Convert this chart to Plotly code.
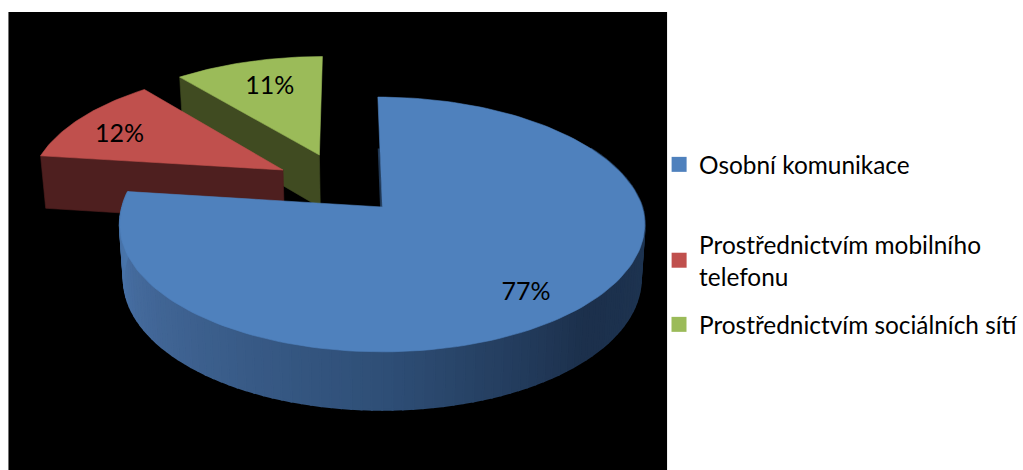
import numpy as np
import plotly.graph_objects as go

categories = ["Osobní komunikace", "Prostřednictvím mobilního<br>telefonu", "Prostřednictvím sociálních sítí"]
values = [77, 12, 11]
labels = ["77%", "12%", "11%"]
top_colors = ["#4f81bd", "#c0504d", "#9bbb59"]
wall_colors = ["#1f3652", "#4e1f1f", "#404b21"]

# slice explosion in the pie plane, and radial/angular placement of the value label
explode = [(0.0, 0.0), (-0.392, 0.3085), (-0.248, 0.441)]
label_radius = [0.77, 0.80, 0.78]
label_turn = [0.0, 0.0, 2.5]

W, H = 1023, 470
CX, CY, A, B, K = 384.5, 207.0, 261.5, 125.0, 0.137
LEAN = 0.04
LABEL_DROP = 8


def project(u, v):
    den = 1 + K * v
    x, y = CX + A * u / den, CY - B * v / den
    return x + LEAN * min(0.0, y - CY), y


def project_low(u, v):
    x, y = project(u, v)
    return CX + (x - CX) * 0.985, y + 54.0 / (1 + 0.068 * v)


def polar(t, r=1.0):
    a = np.radians(t)
    return r * np.sin(a), r * np.cos(a)


def lerp_color(t):
    stops = [(60, (33, 58, 88)), (135, (28, 48, 76)), (180, (47, 79, 119)),
             (240, (68, 105, 154)), (278, (74, 120, 176))]
    ts = [s[0] for s in stops]
    rgb = [np.interp(t, ts, [s[1][i] for s in stops]) for i in range(3)]
    return "rgb(%d,%d,%d)" % tuple(rgb)


def poly(fig, xs, ys, color, lw=0.6):
    fig.add_trace(go.Scatter(
        x=list(xs) + [xs[0]], y=list(ys) + [ys[0]], mode="lines", fill="toself",
        fillcolor=color, line=dict(color=color, width=lw),
        showlegend=False, hoverinfo="skip"))


fig = go.Figure()

edges = np.cumsum([0] + values) * 3.6
spans = list(zip(edges[:-1], edges[1:]))

# exploded slices, back to front
for i in [2, 1]:
    s, e = spans[i]
    du, dv = explode[i]
    eu, ev = polar(s)
    line_u = np.linspace(0, 1, 12)
    top = [project(du + f * eu, dv + f * ev) for f in line_u]
    low = [project_low(du + f * eu, dv + f * ev) for f in line_u]
    pts = top + low[::-1]
    poly(fig, [p[0] for p in pts], [p[1] for p in pts], wall_colors[i])
    arc = [polar(t) for t in np.linspace(s, e, 40)]
    face = [project(du, dv)] + [project(du + a, dv + b) for a, b in arc]
    poly(fig, [p[0] for p in face], [p[1] for p in face], top_colors[i])

# large slice: shaded rim strips
s, e = spans[0]
ticks = np.arange(60, e, 2.0).tolist() + [e]
for t0, t1 in zip(ticks[:-1], ticks[1:]):
    u0, v0 = polar(t0)
    u1, v1 = polar(t1)
    pts = [project(u0, v0), project(u1, v1), project_low(u1, v1), project_low(u0, v0)]
    poly(fig, [p[0] for p in pts], [p[1] for p in pts], lerp_color((t0 + t1) / 2), lw=2)

# thin dark wall beside the first cut
wall = [project(*polar(s, f)) for f in np.linspace(0, 0.5, 6)]
fig.add_trace(go.Scatter(
    x=[p[0] - 1.2 for p in wall], y=[p[1] for p in wall], mode="lines",
    line=dict(color=wall_colors[0], width=2), showlegend=False, hoverinfo="skip"))

arc = [polar(t) for t in np.linspace(s, e, 160)]
face = [project(0, 0)] + [project(a, b) for a, b in arc]
poly(fig, [p[0] for p in face], [p[1] for p in face], top_colors[0])

# value labels
for i, (st, en) in enumerate(spans):
    lu, lv = polar((st + en) / 2 + label_turn[i], label_radius[i])
    x, y = project(explode[i][0] + lu, explode[i][1] + lv)
    fig.add_trace(go.Scatter(
        x=[x], y=[y + LABEL_DROP], mode="text", text=[labels[i]], textposition="middle center",
        textfont=dict(family="Lato", size=25, color="#000000"),
        showlegend=False, hoverinfo="skip"))

# legend
legend_names = ["legend", "legend2", "legend3"]
legend_tops = [142, 222, 302]
for i, name in enumerate(categories):
    fig.add_trace(go.Scatter(
        x=[None], y=[None], mode="markers", name=name, legend=legend_names[i],
        marker=dict(symbol="square", size=15, color=top_colors[i], line=dict(width=0))))

layout_legends = {}
for i, key in enumerate(legend_names):
    layout_legends[key] = dict(
        x=663 / W, y=1 - legend_tops[i] / H,
        xanchor="left", yanchor="top",
        bgcolor="rgba(0,0,0,0)", borderwidth=0, itemsizing="trace",
        font=dict(family="Lato", size=24.4, color="#000000"))

# axis ranges are page pixels; domains place the black panel on the page
fig.update_layout(
    width=W, height=H, margin=dict(l=0, r=0, t=0, b=0),
    paper_bgcolor="#ffffff", plot_bgcolor="#000000",
    xaxis=dict(domain=[8.5 / W, 671 / W], range=[8.5, 671], visible=False, fixedrange=True),
    yaxis=dict(domain=[0, 1 - 12 / H], range=[470, 12], visible=False, fixedrange=True),
    **layout_legends)

fig.write_html("out.html", config={"displayModeBar": False},
               post_script="document.body.style.margin='0';document.documentElement.style.overflow='hidden';")
